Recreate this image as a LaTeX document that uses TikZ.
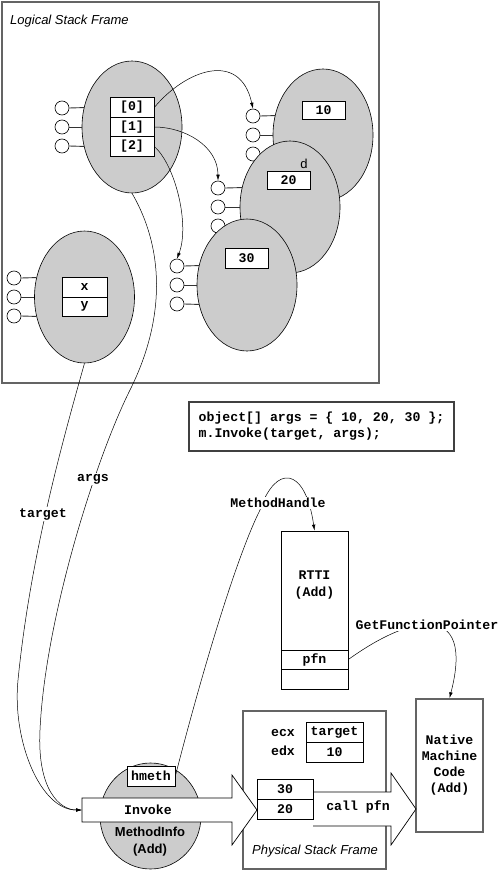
\documentclass[tikz,border=0pt]{standalone}
\usepackage{fontspec}
\setmainfont{Liberation Sans}
\setmonofont{Liberation Mono}
\usetikzlibrary{shapes.geometric,arrows.meta}
\definecolor{blobgray}{RGB}{204,204,204}
\definecolor{framegray}{RGB}{100,100,100}
\newcommand\codefont{\fontsize{13.2}{16}\selectfont\ttfamily\bfseries}
\newcommand\lblfont{\fontsize{13}{17}\selectfont}
\tikzset{
 blob/.style={ellipse, draw=black, line width=0.6pt, fill=blobgray, minimum width=100pt, minimum height=132pt, inner sep=0pt},
 port/.style={circle, draw=black, line width=0.6pt, fill=white, minimum size=14pt, inner sep=0pt},
 cell/.style={draw=black, line width=0.6pt, fill=white, minimum width=44pt, minimum height=19.5pt, inner sep=0pt, font=\codefont},
 stub/.style={line width=0.9pt, draw=black!80},
 link/.style={line width=0.5pt, -{Latex[length=6pt,width=3.5pt]}},
 grayframe/.style={draw=framegray, line width=1.6pt, inner sep=0pt},
 codebox/.style={draw=black!75, line width=1.1pt, inner sep=0pt, font=\codefont, align=left},
 mono/.style={font=\codefont, inner sep=1pt},
 wlabel/.style={font=\codefont, fill=white, inner sep=1.5pt},
 bigarrow/.style={draw=black, line width=0.7pt, fill=white},
 plainbox/.style={draw=black, line width=0.7pt, fill=white, inner sep=0pt, font=\codefont},
}
\begin{document}
\begin{tikzpicture}[x=1pt,y=-1pt]
\useasboundingbox (0,0) rectangle (500,872);
\fill[white] (0,0) rectangle (500,872);

% logical stack frame
\node[grayframe, minimum width=377pt, minimum height=381pt] (lsf) at (190.5,192.5) {};
\node[anchor=west, font=\lblfont\itshape, inner sep=0pt] (lsftitle) at (10,21) {Logical Stack Frame};

% object 10
\node[blob] (e10) at (323,135) {};
\node[port] (p10a) at (253,116) {};
\node[port] (p10b) at (253,135) {};
\node[port] (p10c) at (253,154) {};
\draw[stub] (p10a.east) -- (e10.158);
\draw[stub] (p10b.east) -- (e10.west);
\draw[stub] (p10c.east) -- (e10.202);
\node[cell, minimum height=18pt, minimum width=43pt] (v10) at (323.5,110) {10};

% object 20
\node[blob] (e20) at (290,207) {};
\node[port] (p20a) at (218,188) {};
\node[port] (p20b) at (218,207) {};
\node[port] (p20c) at (218,226) {};
\draw[stub] (p20a.east) -- (e20.158);
\draw[stub] (p20b.east) -- (e20.west);
\draw[stub] (p20c.east) -- (e20.202);
\node[cell, minimum height=18pt, minimum width=43pt] (v20) at (288.5,180) {20};
\node[font=\lblfont, inner sep=0pt] (dlbl) at (304,164) {d};

% object 30
\node[blob] (e30) at (247,285) {};
\node[port] (p30a) at (177,266) {};
\node[port] (p30b) at (177,285) {};
\node[port] (p30c) at (177,304) {};
\draw[stub] (p30a.east) -- (e30.158);
\draw[stub] (p30b.east) -- (e30.west);
\draw[stub] (p30c.east) -- (e30.202);
\node[cell, minimum height=20pt, minimum width=43pt] (v30) at (246.5,258) {30};

% array object
\node[blob] (e1) at (132,127) {};
\node[port] (p1a) at (62,108) {};
\node[port] (p1b) at (62,127) {};
\node[port] (p1c) at (62,146) {};
\draw[stub] (p1a.east) -- (e1.158);
\draw[stub] (p1b.east) -- (e1.west);
\draw[stub] (p1c.east) -- (e1.202);
\node[cell] (a0) at (132,107.5) {[0]};
\node[cell] (a1) at (132,127) {[1]};
\node[cell] (a2) at (132,146.5) {[2]};

% target object
\node[blob] (exy) at (84.5,297) {};
\node[port] (pxa) at (14,278) {};
\node[port] (pxb) at (14,297) {};
\node[port] (pxc) at (14,316) {};
\draw[stub] (pxa.east) -- (exy.158);
\draw[stub] (pxb.east) -- (exy.west);
\draw[stub] (pxc.east) -- (exy.202);
\node[cell, minimum width=45pt] (fx) at (84.5,287.25) {x};
\node[cell, minimum width=45pt] (fy) at (84.5,306.75) {y};

% array element links
\draw[link] (a0.east) .. controls +(31,-37.5) and +(-13,-59) .. (p10a.north);
\draw[link] (a1.east) .. controls +(30,0) and +(0,-35) .. (p20a.north);
\draw[link] (a2.east) .. controls +(21,18.5) and +(13,-34) .. (p30a.north);

% code
\node[codebox, minimum width=265pt, minimum height=49pt] (code) at (321.5,426.5)
 {object[] args = \{ 10, 20, 30 \};\\m.Invoke(target, args);};

% RTTI
\node[plainbox, minimum width=67pt, minimum height=119pt] (rtti) at (314.5,590.5) {};
\node[plainbox, minimum width=67pt, minimum height=19pt] (pfn) at (314.5,659.5) {pfn};
\node[plainbox, minimum width=67pt, minimum height=20pt] (blank) at (314.5,679) {};
\node[font=\fontsize{13.2}{17}\selectfont\ttfamily\bfseries, align=center, inner sep=0pt] (rttitext) at (314.5,585.5) {RTTI\\(Add)};

% native code
\node[grayframe, minimum width=67pt, minimum height=133pt, font=\codefont, align=center] (native) at (449.5,765.5) {Native\\Machine\\Code\\(Add)};

% physical stack frame
\node[grayframe, minimum width=143pt, minimum height=158pt] (phys) at (314.5,790) {};
\node[font=\lblfont\itshape, inner sep=0pt] (physlbl) at (315,851) {Physical Stack Frame};

% MethodInfo
\node[blob, minimum width=101pt, minimum height=106pt] (mi) at (150.5,816) {};
\node[font=\lblfont\bfseries, align=center, inner sep=0pt] (milbl) at (150,841.5) {MethodInfo\\(Add)};
\node[plainbox, minimum width=48pt, minimum height=20pt] (hmeth) at (151,776) {hmeth};

% big arrows
\draw[bigarrow] (82,798) -- (232,798) -- (232,775) -- (257,810) -- (232,845) -- (232,822) -- (82,822) -- cycle;
\coordinate (invL) at (82,810);
\node[mono] (invoke) at (148,810) {Invoke};
\draw[bigarrow] (313,792) -- (391,792) -- (391,773) -- (416,809) -- (391,845) -- (391,826) -- (313,826);
\node[mono] (callpfn) at (358,807) {call pfn};

% registers and stack
\node[mono] (ecx) at (283,733) {ecx};
\node[mono] (edx) at (283,751) {edx};
\node[plainbox, minimum width=57pt, minimum height=20pt] (rtarget) at (334.5,732) {target};
\node[plainbox, minimum width=57pt, minimum height=20pt] (rten) at (334.5,752) {10};
\node[plainbox, minimum width=56pt, minimum height=20pt] (s30) at (285,789) {30};
\node[plainbox, minimum width=56pt, minimum height=20pt] (s20) at (285,809) {20};

% long connectors
\draw[link] (e1.south) .. controls (165,250) and (165,320) .. (130,390)
  .. controls (95,460) and (45,620) .. (40,730)
  .. controls (37,790) and (60,810) .. (invL);
\draw[link] (exy.south) .. controls (60,450) and (30,560) .. (18,680)
  .. controls (12,740) and (40,810) .. (invL);
\draw[link] (hmeth.east) .. controls (200,680) and (235,560) .. (260,510)
  .. controls (275,465) and (305,465) .. (rtti.north);
\draw[link] (pfn.east) .. controls (410,615) and (475,600) .. (native.north);

% connector labels
\node[wlabel] (argslbl) at (93,479) {args};
\node[wlabel] (targetlbl) at (43,514) {target};
\node[wlabel] (mhlbl) at (278,503) {MethodHandle};
\node[wlabel] (gfplbl) at (427,625) {GetFunctionPointer};
\end{tikzpicture}
\end{document}
